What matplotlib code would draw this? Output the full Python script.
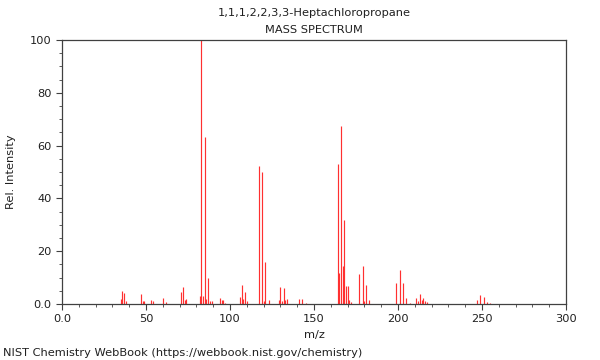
import matplotlib
matplotlib.use('Agg')
import matplotlib.pyplot as plt
from matplotlib.ticker import MultipleLocator

# peaks
mz = [35, 36, 37, 38, 47, 48, 49, 53, 54, 60, 62,
      71, 72, 73, 74, 82, 83, 84, 85, 86, 87, 88, 89,
      94, 95, 96, 97, 106, 107, 108, 109, 110,
      117, 119, 120, 121, 123, 129, 130, 131, 132, 133, 134,
      141, 143, 145,
      164, 165, 166, 167, 168, 169, 170, 171, 172,
      177, 179, 180, 181, 183,
      199, 201, 203, 205, 207, 211, 212, 213, 214, 215, 216, 217,
      247, 249, 251, 253, 255]
intensity = [2.0, 5.0, 4.0, 1.0, 3.8, 1.0, 1.0, 1.5, 1.0, 2.3, 0.7,
             4.5, 6.3, 1.5, 1.9, 3.0, 100, 3.0, 63.4, 2.0, 10.0, 1.2, 1.0,
             2.3, 1.5, 1.5, 0.5, 2.7, 7.2, 2.0, 4.5, 1.0,
             52.4, 50.0, 1.0, 16.0, 1.7, 1.5, 6.3, 1.0, 6.0, 1.5, 2.0,
             2.0, 2.0, 0.5,
             53.0, 11.6, 67.5, 14.5, 32.0, 7.0, 6.7, 1.5, 0.7,
             11.4, 14.5, 1.0, 7.2, 1.5,
             7.8, 12.7, 8.1, 2.4, 0.5, 2.2, 1.0, 3.9, 1.5, 2.3, 1.0, 0.8,
             1.6, 3.5, 2.7, 0.8, 0.3]

title = '1,1,1,2,2,3,3-Heptachloropropane'
subtitle = 'MASS SPECTRUM'
footer = 'NIST Chemistry WebBook (https://webbook.nist.gov/chemistry)'

plt.rcParams['font.family'] = 'DejaVu Sans'
plt.rcParams['font.size'] = 8.2

fig = plt.figure(figsize=(6, 3.6), dpi=100)
ax = fig.add_axes([62/600, 56/360, 504/600, 264/360])

ax.vlines(mz, 0, intensity, colors='#ff3030', linewidth=0.85)

ax.set_xlim(0, 300)
ax.set_ylim(0, 100)
ax.xaxis.set_major_locator(MultipleLocator(50))
ax.xaxis.set_minor_locator(MultipleLocator(10))
ax.yaxis.set_major_locator(MultipleLocator(20))
ax.yaxis.set_minor_locator(MultipleLocator(5))
ax.set_xticklabels(['0.0' if t == 0 else '%d' % t for t in ax.get_xticks()])
ax.set_yticklabels(['0.0' if t == 0 else '%d' % t for t in ax.get_yticks()])

for s in ax.spines.values():
    s.set_color('#404040')
    s.set_linewidth(0.9)
ax.tick_params(which='both', direction='out', color='#404040', labelcolor='#202020')
ax.tick_params(which='major', length=4)
ax.tick_params(which='minor', length=2.5)

ax.set_xlabel('m/z', color='#202020', labelpad=4)
ax.set_ylabel('Rel. Intensity', color='#202020', labelpad=10)

fig.text(314/600, 1 - 13/360, title, ha='center', va='center', color='#202020')
fig.text(314/600, 1 - 30/360, subtitle, ha='center', va='center', color='#202020')
fig.text(3/600, 1 - 353/360, footer, ha='left', va='center', color='#202020')

fig.savefig('out.png', dpi=100)
